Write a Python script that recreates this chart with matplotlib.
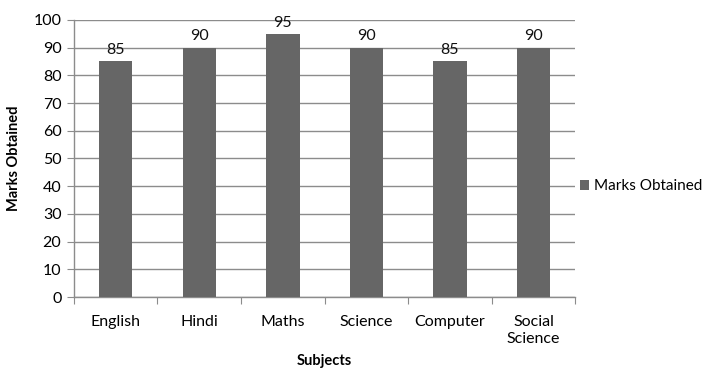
import matplotlib
matplotlib.use("Agg")
import matplotlib.pyplot as plt
import numpy as np

subjects = ["English", "Hindi", "Maths", "Science", "Computer", "Social\nScience"]
marks = [85, 90, 95, 90, 85, 90]
yticks = list(range(0, 101, 10))

plt.rcParams["font.family"] = ["Lato", "DejaVu Sans"]

bar_col = "#666666"
grid_col = "#8c8c8c"

fig = plt.figure(figsize=(7.11, 3.69), dpi=100)
ax = fig.add_axes([0.104, 0.195, 0.705, 0.751])

x = np.arange(len(subjects))
bars = ax.bar(x, marks, width=0.4, color=bar_col, label="Marks Obtained", zorder=3)
for b, v in zip(bars, marks):
    ax.text(b.get_x() + b.get_width() / 2, v + 1.5, str(v),
            ha="center", va="bottom", fontsize=11.5, color="#111111", zorder=4)

ax.set_xlim(-0.5, len(subjects) - 0.5)
ax.set_ylim(0, 100)
ax.set_yticks(yticks)
ax.tick_params(axis="y", labelsize=11.5, length=5, color=grid_col, pad=4)

# category boundary ticks below the axis, labels centred between them
ax.set_xticks(np.arange(-0.5, len(subjects)), minor=False)
ax.set_xticklabels([])
ax.set_xticks(x, minor=True)
ax.set_xticklabels(subjects, minor=True, fontsize=11.5)
ax.tick_params(axis="x", which="major", length=5, color=grid_col)
ax.tick_params(axis="x", which="minor", length=0, pad=13)
for lbl in ax.get_xticklabels(minor=True):
    lbl.set_linespacing(1.25)

ax.grid(axis="y", color=grid_col, linewidth=1.0, zorder=0)
for s in ["top", "right"]:
    ax.spines[s].set_visible(False)
for s in ["left", "bottom"]:
    ax.spines[s].set_color(grid_col)
    ax.spines[s].set_linewidth(1.0)

ax.set_ylabel("Marks Obtained", fontsize=10.5, fontweight="bold", labelpad=9)
ax.set_xlabel("Subjects", fontsize=10.5, fontweight="bold", labelpad=6)

ax.legend(loc="center left", bbox_to_anchor=(1.0, 0.4), frameon=False,
          fontsize=11, handlelength=0.6, handleheight=0.7, handletextpad=0.35,
          borderaxespad=0.0, borderpad=0.3)

fig.savefig("out.png", dpi=100)
